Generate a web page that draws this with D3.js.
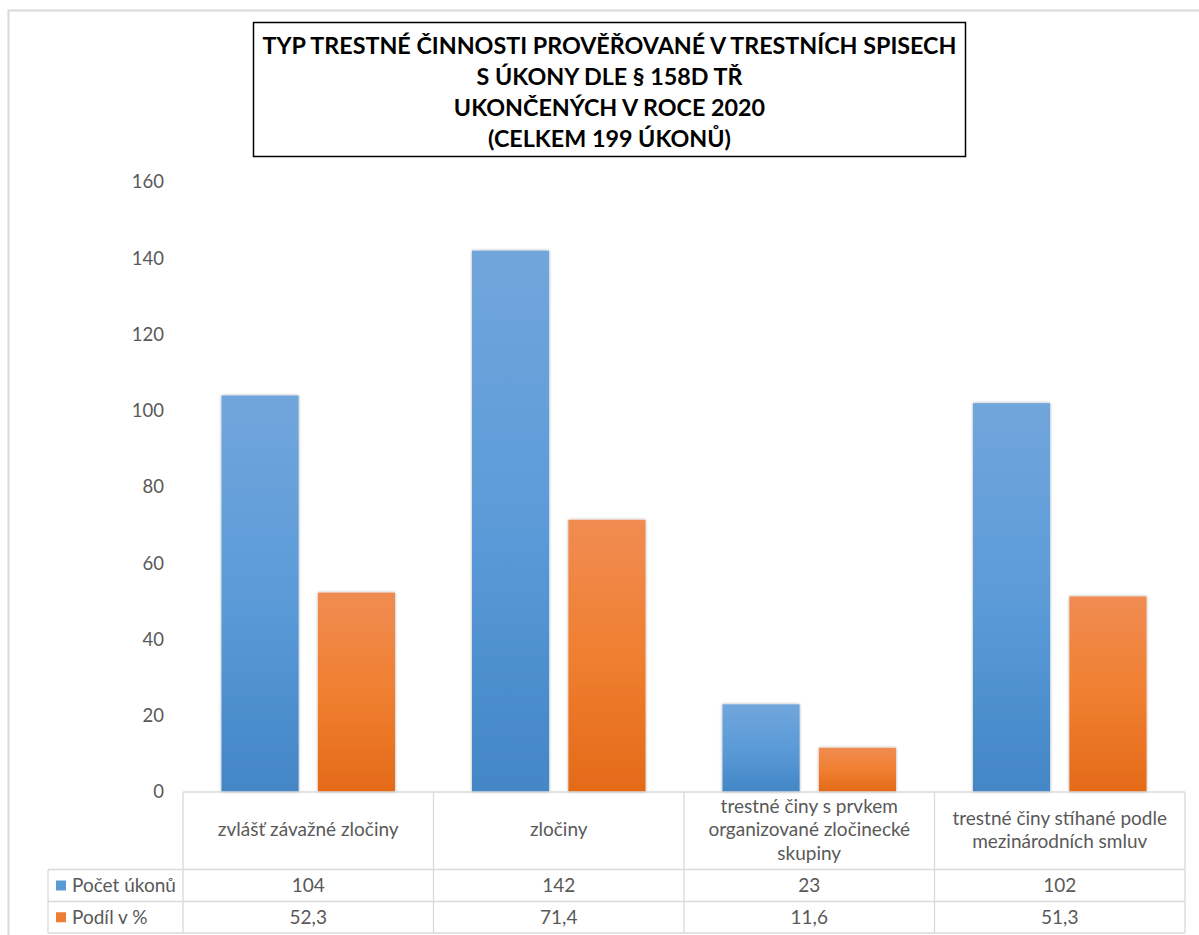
<!DOCTYPE html>
<html><head><meta charset="utf-8">
<script src="https://cdn.jsdelivr.net/npm/d3@7"></script>
<style>body{margin:0;background:#fff;} svg{display:block;}</style>
</head><body>
<script>
const categories = [
  ["zvlášť závažné zločiny"],
  ["zločiny"],
  ["trestné činy s prvkem", "organizované zločinecké", "skupiny"],
  ["trestné činy stíhané podle", "mezinárodních smluv"]
];
const seriesNames = ["Počet úkonů", "Podíl v %"];
const pocetUkonu = [104, 142, 23, 102];
const podilProc = [52.3, 71.4, 11.6, 51.3];
const yTicks = [0, 20, 40, 60, 80, 100, 120, 140, 160];
const titleLines = [
  "TYP TRESTNÉ ČINNOSTI PROVĚŘOVANÉ V TRESTNÍCH SPISECH",
  "S ÚKONY DLE § 158D TŘ",
  "UKONČENÝCH V ROCE 2020",
  "(CELKEM 199 ÚKONŮ)"
];

const W = 1199, H = 935;
const font = "Lato, 'Open Sans', sans-serif";
const grey = "#595959", gridC = "#d9d9d9";
const fs = 19;
const svg = d3.select("body").append("svg").attr("width", W).attr("height", H);

const defs = svg.append("defs");
function grad(id, c1, c2, c3) {
  const g = defs.append("linearGradient").attr("id", id).attr("x1", 0).attr("y1", 0).attr("x2", 0).attr("y2", 1);
  g.append("stop").attr("offset", "0%").attr("stop-color", c1);
  g.append("stop").attr("offset", "50%").attr("stop-color", c2);
  g.append("stop").attr("offset", "100%").attr("stop-color", c3);
}
grad("gBlue", "#71a6dc", "#5b9bd8", "#4386c6");
grad("gOrange", "#f08c52", "#f07f30", "#e36a18");
const f = defs.append("filter").attr("id", "sh").attr("x", "-20%").attr("y", "-20%").attr("width", "140%").attr("height", "140%");
f.append("feDropShadow").attr("dx", 0).attr("dy", 0).attr("stdDeviation", 1.6).attr("flood-color", "#000").attr("flood-opacity", 0.35);

// outer border
svg.append("path").attr("d", `M8.5,${H} V10.5 H${W}`).attr("fill", "none").attr("stroke", gridC).attr("stroke-width", 2);

// scales
const x0 = 183, x1 = 1185, yTop = 182, yBase = 792;
const x = d3.scaleBand().domain(d3.range(categories.length)).range([x0, x1]).paddingInner(0).paddingOuter(0);
const inner = d3.scaleBand().domain([0, 1]).range([38.5, x.bandwidth() - 38.5]).paddingInner(0.2);
const y = d3.scaleLinear().domain([0, 160]).range([yBase, yTop]);

// y axis
const yAxis = svg.append("g").attr("transform", `translate(164,0)`).call(d3.axisLeft(y).tickValues(yTicks).tickSize(0).tickPadding(0));
yAxis.select(".domain").remove();
yAxis.selectAll("text").attr("font-family", font).attr("font-size", fs - 0.5).attr("fill", grey);

// bars
const series = [pocetUkonu, podilProc];
const fills = ["url(#gBlue)", "url(#gOrange)"];
series.forEach((vals, si) => {
  svg.append("g").selectAll("rect").data(vals).join("rect")
    .attr("x", (d, i) => x(i) + inner(si))
    .attr("width", inner.bandwidth())
    .attr("y", d => y(d))
    .attr("height", d => y(0) - y(d))
    .attr("fill", fills[si])
    .attr("filter", "url(#sh)");
});

// data table
const rowTop = yBase, row1 = 869.5, row2 = 901.5, row3 = 933, tLeft = 48;
const tg = svg.append("g").attr("stroke", gridC).attr("stroke-width", 1.3).attr("fill", "none");
tg.append("line").attr("x1", x0).attr("x2", x1).attr("y1", rowTop).attr("y2", rowTop);
[row1, row2, row3].forEach(yy => tg.append("line").attr("x1", tLeft).attr("x2", x1).attr("y1", yy).attr("y2", yy));
d3.range(categories.length + 1).forEach(i => {
  const xx = i < categories.length ? x(i) : x1;
  tg.append("line").attr("x1", xx).attr("x2", xx).attr("y1", rowTop).attr("y2", row3);
});
tg.append("line").attr("x1", tLeft).attr("x2", tLeft).attr("y1", row1).attr("y2", row3);

// category labels
const lh = 23.5;
categories.forEach((lines, i) => {
  const cx = x(i) + x.bandwidth() / 2;
  const cy = (rowTop + row1) / 2 - 1;
  const t = svg.append("text").attr("font-family", font).attr("font-size", fs).attr("fill", grey).attr("text-anchor", "middle");
  lines.forEach((l, j) => {
    t.append("tspan").attr("x", cx).attr("y", cy + (j - (lines.length - 1) / 2) * lh).attr("dy", "0.35em").text(l);
  });
});

// rows
const fmt = v => String(v).replace(".", ",");
const legendCols = ["#5b9bd5", "#ed7d31"];
[[row1, row2], [row2, row3]].forEach(([a, b], si) => {
  const cy = (a + b) / 2;
  svg.append("rect").attr("x", 56).attr("y", cy - 5).attr("width", 10).attr("height", 10).attr("fill", legendCols[si]);
  svg.append("text").attr("x", 72).attr("y", cy).attr("dy", "0.35em").attr("font-family", font).attr("font-size", fs).attr("fill", grey).text(seriesNames[si]);
  series[si].forEach((v, i) => {
    svg.append("text").attr("x", x(i) + x.bandwidth() / 2).attr("y", cy).attr("dy", "0.35em")
      .attr("text-anchor", "middle").attr("font-family", font).attr("font-size", fs).attr("fill", grey).text(fmt(v));
  });
});

// title box
svg.append("rect").attr("x", 253.5).attr("y", 22.5).attr("width", 712).attr("height", 134).attr("fill", "#fff").attr("stroke", "#000").attr("stroke-width", 1.5);
const tt = svg.append("text").attr("font-family", font).attr("font-weight", "bold").attr("font-size", 23.3).attr("fill", "#000").attr("text-anchor", "middle");
titleLines.forEach((l, j) => {
  tt.append("tspan").attr("x", 609.5).attr("y", 45.5 + j * 31).attr("dy", "0.35em").text(l);
});
</script>
</body></html>
